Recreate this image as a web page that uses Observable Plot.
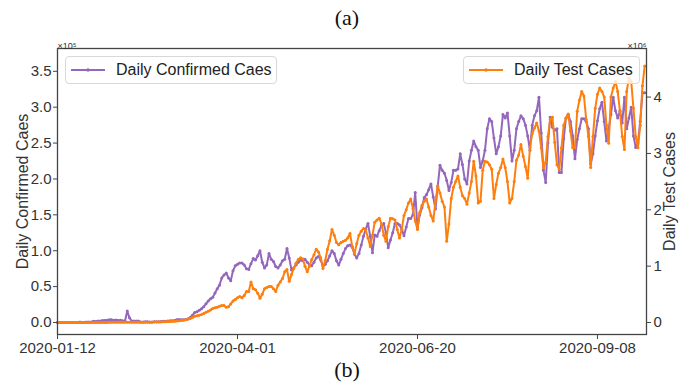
<!DOCTYPE html>
<html><head><meta charset="utf-8">
<script src="https://cdn.jsdelivr.net/npm/d3@7"></script>
<script src="https://cdn.jsdelivr.net/npm/@observablehq/plot@0.6"></script>
<style>
body{margin:0;background:#fff;}
#wrap{position:relative;width:694px;height:383px;font-family:"Liberation Sans",Arial,sans-serif;}
.cap{font-family:"Liberation Serif","Times New Roman",serif;font-size:22px;text-align:center;color:#111;}
#ta{height:35px;line-height:35px;}
#tb{height:26px;line-height:26px;}
#chart svg{display:block;}
.leg{position:absolute;background:rgba(255,255,255,0.8);border:1px solid #d8d8d8;border-radius:4px;font-size:16px;color:#222;display:flex;align-items:center;height:28px;box-sizing:border-box;padding-left:5px;}
.leg svg{margin-right:11px;}
</style></head>
<body><div id="wrap"><div id="ta" class="cap">(a)</div><div id="chart"></div><div id="tb" class="cap">(b)</div></div>
<script>
const startDate = Date.UTC(2020, 0, 12);
// Daily confirmed cases, in units of 10^5
const confirmed = [
0,0,0,0,0,0,0,0,0,0,
0.006,0.001,0.003,0.005,0.007,0.008,0.018,0.015,0.02,0.021,
0.026,0.028,0.032,0.039,0.037,0.032,0.034,0.027,0.03,0.025,
0.021,0.16,0.065,0.021,0.021,0.02,0.019,0.005,0.006,0.01,
0.01,0.006,0.008,0.009,0.009,0.011,0.014,0.018,0.018,0.019,
0.025,0.023,0.028,0.039,0.04,0.038,0.039,0.04,0.05,0.07,
0.1,0.14,0.15,0.17,0.19,0.22,0.26,0.3,0.33,0.35,
0.41,0.47,0.52,0.62,0.66,0.69,0.62,0.58,0.72,0.79,
0.81,0.83,0.83,0.8,0.75,0.74,0.82,0.89,0.87,0.93,
1.0,0.84,0.76,0.8,0.96,0.88,0.85,0.78,0.76,0.8,
0.86,0.88,1.03,0.9,0.73,0.76,0.8,0.84,0.87,0.86,
0.88,0.84,0.80,0.79,0.84,0.9,0.92,0.87,0.79,0.81,
0.86,0.93,1.0,0.96,0.86,0.8,0.88,0.96,1.03,1.07,
1.08,1.05,0.95,0.9,0.96,1.08,1.2,1.3,1.38,1.2,
0.97,1.22,1.2,1.28,1.35,1.38,1.25,1.04,1.15,1.25,
1.38,1.38,1.36,1.3,1.21,1.33,1.45,1.45,1.5,1.81,
1.32,1.5,1.6,1.74,1.78,1.85,1.93,1.75,1.58,1.9,
2.19,2.12,2.08,1.98,1.84,1.95,2.12,2.12,2.14,2.35,
2.2,2.0,1.93,2.25,2.4,2.53,2.45,2.4,2.16,2.25,
2.4,2.7,2.84,2.8,2.57,2.35,2.45,2.6,2.9,2.85,
2.92,2.6,2.25,2.4,2.7,2.8,2.88,2.84,2.75,2.6,
2.4,2.75,2.88,2.95,3.14,2.64,2.12,1.95,2.5,2.86,
2.72,2.68,2.7,2.09,2.09,2.56,2.85,2.9,2.8,2.6,
2.28,2.55,2.7,2.84,2.84,2.8,2.7,2.21,2.35,2.6,
2.81,2.98,3.07,2.8,2.53,2.7,2.9,3.14,2.95,2.85,
2.95,2.78,3.14,2.7,2.85,3.0,2.6,2.44,2.5,2.8,
3.2,3.2
];
// Daily tests, in units of 10^6
const tests = [
0,0,0,0,0,0,0,0,0,0,
0,0,0.001,0.001,0.001,0.001,0.001,0.001,0.002,0.002,
0.002,0.002,0.002,0.003,0.003,0.003,0.003,0.003,0.003,0.004,
0.004,0.004,0.004,0.004,0.004,0.005,0.005,0.005,0.005,0.005,
0.005,0.005,0.006,0.007,0.008,0.009,0.01,0.012,0.014,0.016,
0.018,0.02,0.024,0.028,0.03,0.035,0.04,0.05,0.06,0.07,
0.09,0.11,0.12,0.13,0.14,0.16,0.18,0.2,0.22,0.25,
0.26,0.27,0.29,0.3,0.3,0.27,0.28,0.33,0.38,0.41,
0.44,0.46,0.44,0.48,0.55,0.55,0.72,0.6,0.58,0.52,
0.43,0.5,0.6,0.62,0.64,0.64,0.6,0.55,0.66,0.72,
0.78,0.9,0.94,0.73,0.85,0.96,1.05,1.12,1.15,1.13,
1.0,0.9,1.0,1.12,1.2,1.3,1.25,1.15,0.96,1.1,
1.3,1.45,1.65,1.55,1.42,1.38,1.42,1.44,1.46,1.5,
1.58,1.35,1.22,1.4,1.55,1.62,1.67,1.64,1.5,1.35,
1.55,1.78,1.82,1.85,1.75,1.55,1.44,1.7,1.85,1.84,
1.82,1.65,1.5,1.65,1.9,2.0,2.12,2.19,2.02,1.8,
1.65,1.95,2.08,2.15,2.19,2.05,1.9,1.8,2.15,2.42,
2.3,2.15,2.05,1.44,1.75,2.2,2.4,2.5,2.6,2.4,
2.25,2.2,2.1,2.3,2.5,2.86,2.6,2.12,2.15,2.7,
2.86,2.85,2.8,2.72,2.2,2.45,2.65,2.75,2.9,2.75,
2.5,2.12,2.2,2.5,2.88,2.97,3.16,2.95,2.77,2.56,
3.1,3.35,3.45,3.54,3.4,3.1,2.74,2.85,3.3,3.6,
3.64,3.2,2.8,2.72,3.1,3.5,3.62,3.7,3.4,3.1,
3.1,3.75,3.95,4.1,4.02,3.6,3.3,2.75,3.3,3.8,
4.05,4.16,4.1,4.0,3.5,3.18,4.0,4.16,4.28,4.1,
3.75,3.3,3.07,4.1,4.34,4.28,3.8,3.3,3.1,3.5,
4.2,4.55
];
const xTickLabels = ["2020-01-12","2020-04-01","2020-06-20","2020-09-08"];
const leftTicks = [0,0.5,1,1.5,2,2.5,3,3.5];
const rightTicks = [0,1,2,3,4];
const seriesNames = ["Daily Confirmed Caes","Daily Test Cases"];
const axisTitles = ["Daily Confirmed Caes","Daily Test Cases"];
const colors = ["#9467bd","#ff7f0e"];

const day = 864e5;
const leftDomain = [-0.1675, 3.818];
const rightDomain = [-0.213, 4.862];
const K = (leftDomain[1]-leftDomain[0])/(rightDomain[1]-rightDomain[0]);
const toLeft = t => leftDomain[0] + (t - rightDomain[0]) * K;

const rowsC = confirmed.map((v,i)=>({date:new Date(startDate+i*day), v}));
const rowsT = tests.map((v,i)=>({date:new Date(startDate+i*day), v:toLeft(v)}));
const parseUTC = d3.utcParse("%Y-%m-%d");
const xTicks = xTickLabels.map(parseUTC);
const axisColor = "#444";
const textColor = "#333";

const chart = Plot.plot({
  width: 694, height: 322,
  marginLeft: 57, marginRight: 48, marginTop: 13, marginBottom: 23,
  style: {fontFamily: '"Liberation Sans", Arial, sans-serif', fontSize: "15px", color: textColor, background: "#fff"},
  x: {type: "utc", domain: [new Date(startDate), new Date(startDate + 261.8*day)], axis: null},
  y: {domain: leftDomain, axis: null},
  marks: [
    Plot.line(rowsC, {x:"date", y:"v", stroke: colors[0], strokeWidth: 2}),
    Plot.dot(rowsC, {x:"date", y:"v", fill: colors[0], r: 1.5}),
    Plot.line(rowsT, {x:"date", y:"v", stroke: colors[1], strokeWidth: 2}),
    Plot.dot(rowsT, {x:"date", y:"v", fill: colors[1], r: 1.5}),
    Plot.frame({stroke: axisColor, strokeWidth: 1.3}),
    Plot.axisX(xTicks, {anchor: "bottom", tickSize: 5, tickPadding: 3, stroke: axisColor, fill: textColor, fontSize: 15, tickFormat: d3.utcFormat("%Y-%m-%d"), label: null}),
    Plot.axisY(leftTicks, {anchor: "left", tickSize: 4, tickPadding: 2, stroke: axisColor, fill: textColor, fontSize: 15, tickFormat: d => d.toFixed(1), label: null}),
    Plot.axisY(rightTicks.map(toLeft), {anchor: "right", tickSize: 4, tickPadding: 3, stroke: axisColor, fill: textColor, fontSize: 15, tickFormat: d => String(Math.round((d - leftDomain[0])/K + rightDomain[0])), label: null}),
    Plot.text([axisTitles[0]], {frameAnchor: "left", textAnchor: "middle", lineAnchor: "middle", dx: -35, rotate: -90, fontSize: 16, fill: textColor, text: d => d}),
    Plot.text([axisTitles[1]], {frameAnchor: "right", textAnchor: "middle", lineAnchor: "middle", dx: 23, rotate: -90, fontSize: 16, fill: textColor, text: d => d}),
    Plot.text(["×10⁵"], {frameAnchor: "top-left", dy: -6, textAnchor: "start", fontSize: 9, fill: textColor, text: d => d}),
    Plot.text(["×10⁶"], {frameAnchor: "top-right", dy: -6, textAnchor: "end", fontSize: 9, fill: textColor, text: d => d})
  ]
});
document.getElementById("chart").appendChild(chart);

function legend(name, color, left, width) {
  const el = document.createElement("div");
  el.className = "leg";
  el.style.left = left + "px"; el.style.top = "56px"; el.style.width = width + "px";
  el.innerHTML = `<svg width="34" height="10"><line x1="0" y1="5" x2="34" y2="5" stroke="${color}" stroke-width="2"/><circle cx="17" cy="5" r="1.8" fill="${color}"/></svg><span>${name}</span>`;
  document.getElementById("wrap").appendChild(el);
}
legend(seriesNames[0], colors[0], 65, 212);
legend(seriesNames[1], colors[1], 463, 177);
</script>
</body></html>
